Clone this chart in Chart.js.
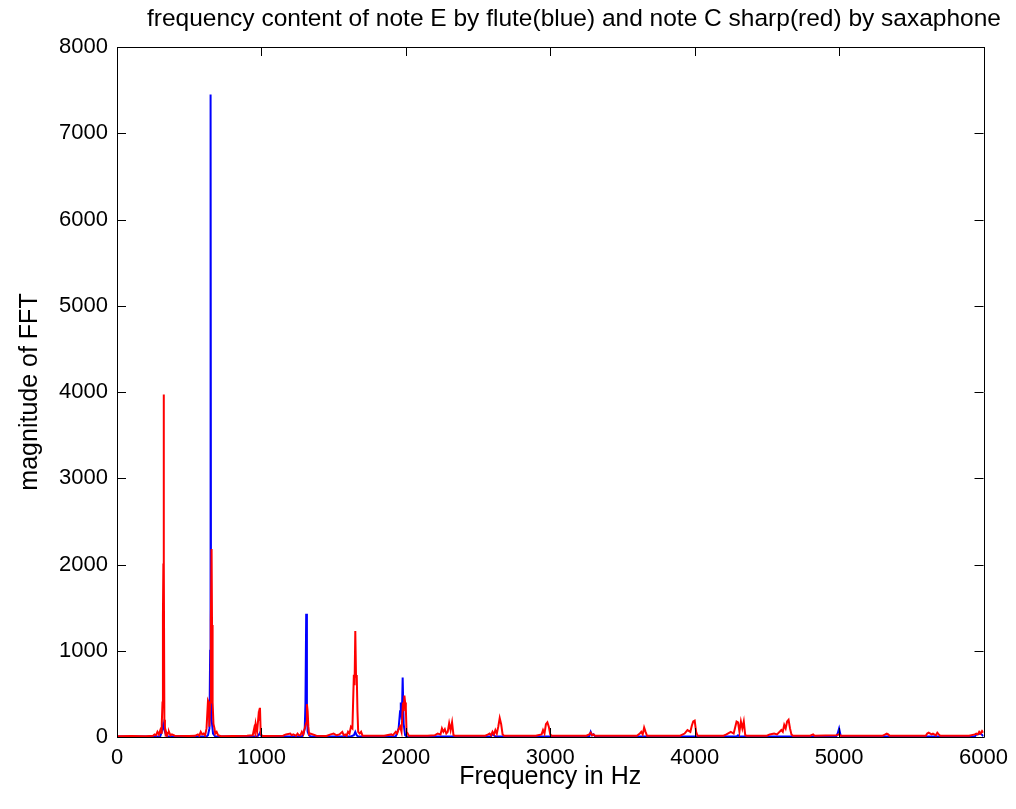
<!DOCTYPE html>
<html>
<head>
<meta charset="utf-8">
<script src="https://cdn.jsdelivr.net/npm/chart.js@4"></script>
<style>
html,body{margin:0;padding:0;background:#fff;}
#wrap{width:1016px;height:809px;}
</style>
</head>
<body>
<div id="wrap"><canvas id="c" width="1016" height="809"></canvas></div>
<script>
const chartTitle = "frequency content of note E by flute(blue) and note C sharp(red) by saxaphone";
const xLabel = "Frequency in Hz";
const yLabel = "magnitude of FFT";
const xTicks = [0, 1000, 2000, 3000, 4000, 5000, 6000];
const yTicks = [0, 1000, 2000, 3000, 4000, 5000, 6000, 7000, 8000];

// saxophone (red)
const redFreq = [0,100,200,250,260,270,280,290,300,305,310,315,318,321,323,325,328,332,336,340,345,350,355,360,370,380,400,
 500,540,560,570,580,590,600,610,620,630,635,640,645,650,655,658,662,668,675,680,690,700,720,
 800,900,940,950,955,960,970,980,985,990,995,1000,1010,
 1150,1170,1200,1210,1220,1240,1250,1260,1270,1280,1290,1300,1310,1315,1320,1325,1330,1340,1380,
 1450,1480,1500,1520,1540,1560,1570,1580,1590,1600,1610,1620,1630,1640,1645,1650,1655,1660,1665,1670,1680,1690,1700,
 1850,1900,1910,1930,1940,1950,1960,1970,1980,1985,1990,1995,2000,2005,2010,2020,
 2150,2200,2220,2240,2250,2260,2270,2280,2290,2300,2310,2320,2330,2340,
 2550,2570,2580,2590,2600,2610,2620,2630,2640,2650,2660,2670,2680,
 2900,2940,2950,2960,2970,2980,2990,3000,3010,
 3250,3270,3280,3290,3300,3310,
 3600,3620,3630,3640,3650,3660,3670,
 3900,3930,3950,3970,3980,3990,4000,4010,4020,
 4200,4220,4250,4270,4290,4300,4310,4320,4330,4340,4350,4360,
 4500,4520,4550,4570,4600,4610,4620,4630,4640,4650,4660,4670,4680,
 4800,4820,4830,4980,5000,5010,5300,5320,5330,5340,5350,5600,5610,5620,5640,5650,5670,5680,5690,5700,5900,5940,5950,5960,5970,5980,5990,6000];
const redMag = [10,12,10,14,30,20,60,30,80,50,150,400,1400,2000,3970,2050,200,120,40,60,30,30,50,60,20,30,15,
 12,14,30,15,60,30,40,20,100,420,400,120,400,1350,2180,1300,400,150,100,40,60,20,10,
 12,15,20,100,60,150,60,250,200,340,40,20,12,
 15,30,40,20,30,15,40,20,20,60,30,100,160,380,300,120,30,40,15,
 12,30,40,20,30,60,20,30,15,60,40,120,100,720,600,1230,700,720,300,60,40,60,15,
 15,30,20,60,40,90,120,60,400,300,480,400,330,60,50,15,
 15,20,40,30,100,60,90,40,60,160,80,170,20,14,
 15,30,40,20,60,30,80,40,120,220,150,30,14,
 15,30,80,40,150,170,120,30,14,
 15,30,50,20,30,14,
 15,40,60,30,110,60,14,
 15,40,80,60,130,180,190,60,14,
 15,30,60,40,180,170,60,180,100,180,20,14,
 15,30,40,30,80,60,140,100,180,200,100,30,14,
 15,30,15,20,30,14,14,30,40,30,14,14,40,50,30,40,20,50,30,14,14,30,40,30,60,40,70,50];

// flute (blue)
const blueFreq = [0,290,300,310,320,328,340,350,620,630,640,645,648,651,655,665,680,
 970,980,990,1000,1010,1280,1290,1300,1305,1310,1315,1320,1330,1340,
 1620,1640,1650,1660,1670,1930,1950,1960,1965,1972,1978,1985,1995,2005,
 2590,2600,2610,2620,3270,3280,3290,3300,3310,4290,4300,4310,4980,4990,5000,5010,5020,5940,5950,5980,6000];
const blueMag = [6,6,10,60,150,80,20,6,6,20,100,1000,7450,1000,200,40,6,
 6,20,50,10,6,6,30,100,400,1430,300,60,20,6,
 6,20,60,20,6,6,100,300,400,200,690,150,20,6,
 6,40,20,6,6,60,20,30,6,6,20,6,6,40,100,20,6,6,30,40,10];

const toPts = (xs, ys) => xs.map((x, i) => ({x: x, y: ys[i]}));

const font = "'Liberation Sans', Arial, sans-serif";

const matlabBox = {
  id: 'matlabBox',
  afterDraw(chart) {
    const ctx = chart.ctx;
    const a = chart.chartArea;
    const xs = chart.scales.x, ys = chart.scales.y;
    ctx.save();
    ctx.strokeStyle = '#000';
    ctx.lineWidth = 1;
    ctx.beginPath();
    ctx.rect(Math.round(a.left) + 0.5, Math.round(a.top) + 0.5, Math.round(a.right - a.left), Math.round(a.bottom - a.top));
    ctx.stroke();
    const L = 9;
    ctx.beginPath();
    xTicks.forEach(v => {
      const px = Math.round(xs.getPixelForValue(v)) + 0.5;
      ctx.moveTo(px, a.bottom); ctx.lineTo(px, a.bottom - L);
      ctx.moveTo(px, a.top); ctx.lineTo(px, a.top + L);
    });
    yTicks.forEach(v => {
      const py = Math.round(ys.getPixelForValue(v)) + 0.5;
      ctx.moveTo(a.left, py); ctx.lineTo(a.left + L, py);
      ctx.moveTo(a.right, py); ctx.lineTo(a.right - L, py);
    });
    ctx.stroke();
    ctx.fillStyle = '#000';
    ctx.font = '24.5px ' + font;
    ctx.textAlign = 'center';
    ctx.textBaseline = 'middle';
    ctx.fillText(chartTitle, 574, 19);
    ctx.restore();
  }
};

new Chart(document.getElementById('c'), {
  type: 'line',
  data: {
    datasets: [
      {label: 'saxophone C#', data: toPts(redFreq, redMag), borderColor: '#ff0000', borderWidth: 2, pointRadius: 0, tension: 0, order: 0},
      {label: 'flute E', data: toPts(blueFreq, blueMag), borderColor: '#0000ff', borderWidth: 2, pointRadius: 0, tension: 0, order: 1}
    ]
  },
  plugins: [matlabBox],
  options: {
    responsive: false,
    animation: false,
    events: [],
    layout: {padding: {top: 47, right: 31, left: 0, bottom: 0}},
    plugins: {legend: {display: false}, tooltip: {enabled: false}, title: {display: false}},
    scales: {
      x: {
        type: 'linear', min: 0, max: 6000,
        afterBuildTicks: s => { s.ticks = xTicks.map(v => ({value: v})); },
        afterFit: s => { s.height = 72; },
        grid: {display: false, drawTicks: false},
        border: {display: false},
        ticks: {color: '#000', font: {family: font, size: 22}, padding: 8, maxRotation: 0, autoSkip: false, callback: v => String(v)},
        title: {display: true, text: xLabel, color: '#000', font: {family: font, size: 25}, padding: {top: 0, bottom: 17}}
      },
      y: {
        type: 'linear', min: 0, max: 8000,
        afterBuildTicks: s => { s.ticks = yTicks.map(v => ({value: v})); },
        afterFit: s => { s.width = 117; },
        grid: {display: false, drawTicks: false},
        border: {display: false},
        ticks: {color: '#000', font: {family: font, size: 22}, padding: 9, autoSkip: false, callback: v => String(v)},
        title: {display: true, text: yLabel, color: '#000', font: {family: font, size: 25}, padding: {top: 15, bottom: 0}}
      }
    }
  }
});
</script>
</body>
</html>
